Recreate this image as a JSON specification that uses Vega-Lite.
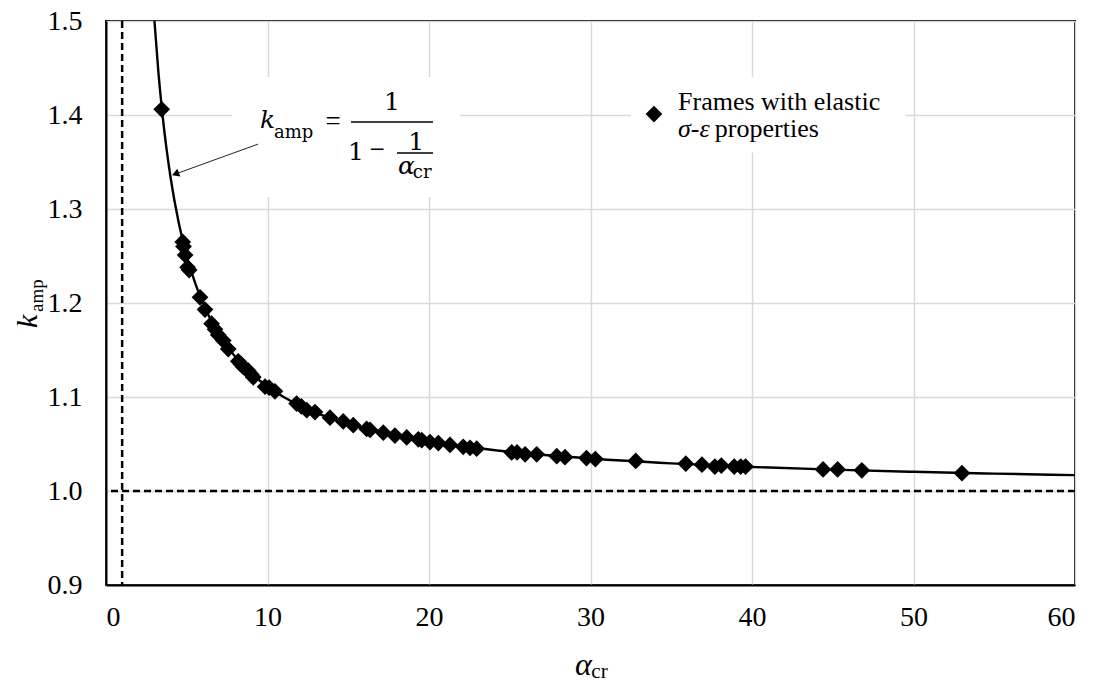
{
  "$schema": "https://vega.github.io/schema/vega-lite/v6.json",
  "autosize": {"type": "none"},
  "width": 969,
  "height": 564,
  "padding": {"left": 106, "top": 21, "right": 24, "bottom": 99},
  "background": "white",
  "config": {
    "view": {"stroke": "black", "strokeWidth": 2},
    "axis": {
      "grid": true, "gridColor": "#d9d9d9", "gridWidth": 1.5,
      "ticks": false, "domain": true, "domainColor": "black", "domainWidth": 2,
      "labelFont": "Liberation Serif", "labelFontSize": 28, "labelColor": "black"
    }
  },
  "datasets": {
    "curve": [
      {"a": 3.0, "k": 1.5}, {"a": 3.25, "k": 1.4444}, {"a": 3.5, "k": 1.4}, {"a": 3.75, "k": 1.3636},
      {"a": 4.0, "k": 1.3333}, {"a": 4.5, "k": 1.2857}, {"a": 5.0, "k": 1.25}, {"a": 5.5, "k": 1.2222},
      {"a": 6.0, "k": 1.2}, {"a": 6.5, "k": 1.1818}, {"a": 7.0, "k": 1.1667}, {"a": 8.0, "k": 1.1429},
      {"a": 9.0, "k": 1.125}, {"a": 10.0, "k": 1.1111}, {"a": 11.0, "k": 1.1}, {"a": 12.0, "k": 1.0909},
      {"a": 14.0, "k": 1.0769}, {"a": 16.0, "k": 1.0667}, {"a": 18.0, "k": 1.0588}, {"a": 20.0, "k": 1.0526},
      {"a": 25.0, "k": 1.0417}, {"a": 30.0, "k": 1.0345}, {"a": 35.0, "k": 1.0294}, {"a": 40.0, "k": 1.0256},
      {"a": 45.0, "k": 1.0227}, {"a": 50.0, "k": 1.0204}, {"a": 55.0, "k": 1.0185}, {"a": 60.0, "k": 1.0169}
    ],
    "frames": [
      {"a": 3.45, "k": 1.406}, {"a": 4.75, "k": 1.265}, {"a": 4.8, "k": 1.26}, {"a": 4.9, "k": 1.251},
      {"a": 5.05, "k": 1.238}, {"a": 5.15, "k": 1.235}, {"a": 5.82, "k": 1.206}, {"a": 6.13, "k": 1.193},
      {"a": 6.54, "k": 1.178}, {"a": 6.75, "k": 1.172}, {"a": 6.95, "k": 1.166}, {"a": 7.26, "k": 1.16},
      {"a": 7.57, "k": 1.151}, {"a": 8.19, "k": 1.138}, {"a": 8.35, "k": 1.135}, {"a": 8.5, "k": 1.132},
      {"a": 8.81, "k": 1.128}, {"a": 9.0, "k": 1.124}, {"a": 9.12, "k": 1.121}, {"a": 9.85, "k": 1.111},
      {"a": 10.1, "k": 1.11}, {"a": 10.46, "k": 1.106}, {"a": 11.8, "k": 1.093}, {"a": 12.1, "k": 1.09},
      {"a": 12.43, "k": 1.086}, {"a": 12.94, "k": 1.084}, {"a": 13.87, "k": 1.078}, {"a": 14.69, "k": 1.074},
      {"a": 15.31, "k": 1.07}, {"a": 16.14, "k": 1.066}, {"a": 16.35, "k": 1.065}, {"a": 17.17, "k": 1.062},
      {"a": 17.89, "k": 1.059}, {"a": 18.62, "k": 1.057}, {"a": 19.34, "k": 1.055}, {"a": 19.55, "k": 1.054},
      {"a": 20.06, "k": 1.052}, {"a": 20.58, "k": 1.051}, {"a": 21.3, "k": 1.049}, {"a": 22.12, "k": 1.047},
      {"a": 22.54, "k": 1.046}, {"a": 22.95, "k": 1.045}, {"a": 25.12, "k": 1.041}, {"a": 25.45, "k": 1.041},
      {"a": 25.95, "k": 1.039}, {"a": 26.67, "k": 1.039}, {"a": 27.91, "k": 1.037}, {"a": 28.42, "k": 1.036},
      {"a": 29.75, "k": 1.035}, {"a": 30.3, "k": 1.034}, {"a": 32.8, "k": 1.032}, {"a": 35.9, "k": 1.029},
      {"a": 36.9, "k": 1.028}, {"a": 37.7, "k": 1.026}, {"a": 38.1, "k": 1.027}, {"a": 38.9, "k": 1.026},
      {"a": 39.3, "k": 1.026}, {"a": 39.6, "k": 1.026}, {"a": 44.4, "k": 1.023}, {"a": 45.3, "k": 1.023},
      {"a": 46.8, "k": 1.022}, {"a": 53.0, "k": 1.019}
    ]
  },
  "layer": [
    {
      "data": {"values": [
        {"a": 7.8, "a2": 21.9, "k": 1.4404, "k2": 1.3128},
        {"a": 32.5, "a2": 49.5, "k": 1.4404, "k2": 1.36}
      ]},
      "mark": {"type": "rect", "fill": "white", "stroke": null},
      "encoding": {
        "x": {"field": "a", "type": "quantitative", "scale": {"domain": [0, 60], "nice": false},
              "axis": {"values": [0, 10, 20, 30, 40, 50, 60], "labelPadding": 18, "title": null,
                       "labelFont": "Liberation Serif", "labelFontSize": 28, "labelColor": "black"}},
        "x2": {"field": "a2"},
        "y": {"field": "k", "type": "quantitative", "scale": {"domain": [0.9, 1.5], "nice": false},
              "axis": {"values": [0.9, 1.0, 1.1, 1.2, 1.3, 1.4, 1.5], "format": ".1f", "labelPadding": 24, "title": null,
                       "labelFont": "Liberation Serif", "labelFontSize": 28, "labelColor": "black"}},
        "y2": {"field": "k2"}
      }
    },
    {
      "data": {"values": [{"v": 1}]},
      "mark": {"type": "rule", "color": "black", "strokeWidth": 2.5, "strokeDash": [7, 4]},
      "encoding": {"x": {"field": "v", "type": "quantitative"}}
    },
    {
      "data": {"values": [{"v": 1.0}]},
      "mark": {"type": "rule", "color": "black", "strokeWidth": 2.5, "strokeDash": [7, 4]},
      "encoding": {"y": {"field": "v", "type": "quantitative"}}
    },
    {
      "data": {"name": "curve"},
      "mark": {"type": "line", "color": "black", "strokeWidth": 2.4, "interpolate": "monotone"},
      "encoding": {
        "x": {"field": "a", "type": "quantitative"},
        "y": {"field": "k", "type": "quantitative"}
      }
    },
    {
      "data": {"name": "frames"},
      "mark": {"type": "point", "shape": "diamond", "filled": true, "color": "black", "size": 280, "opacity": 1},
      "encoding": {
        "x": {"field": "a", "type": "quantitative"},
        "y": {"field": "k", "type": "quantitative"}
      }
    },
    {
      "data": {"values": [{"a": 33.93, "k": 1.401}]},
      "mark": {"type": "point", "shape": "diamond", "filled": true, "color": "black", "size": 280, "opacity": 1},
      "encoding": {
        "x": {"field": "a", "type": "quantitative"},
        "y": {"field": "k", "type": "quantitative"}
      }
    },
    {
      "data": {"values": [{"a": 9.41, "k": 1.369, "a2": 4.2, "k2": 1.3366}]},
      "mark": {"type": "rule", "color": "#222222", "strokeWidth": 1},
      "encoding": {
        "x": {"field": "a", "type": "quantitative"},
        "y": {"field": "k", "type": "quantitative"},
        "x2": {"field": "a2"},
        "y2": {"field": "k2"}
      }
    },
    {
      "data": {"values": [{"a": 4.3, "k": 1.3373}]},
      "mark": {"type": "point", "shape": "triangle-up", "filled": true, "color": "black", "size": 70, "angle": 249, "opacity": 1},
      "encoding": {
        "x": {"field": "a", "type": "quantitative"},
        "y": {"field": "k", "type": "quantitative"}
      }
    },
    {
      "data": {"values": [
        {"a": 15.17, "a2": 20.25, "k": 1.3926},
        {"a": 18.02, "a2": 20.25, "k": 1.3596}
      ]},
      "mark": {"type": "rule", "color": "black", "strokeWidth": 1.5},
      "encoding": {
        "x": {"field": "a", "type": "quantitative"},
        "x2": {"field": "a2"},
        "y": {"field": "k", "type": "quantitative"}
      }
    },
    {
      "data": {"values": [
        {"a": 9.54, "k": 1.3862, "t": "k"},
        {"a": 18.08, "k": 1.3372, "t": "α"}
      ]},
      "mark": {"type": "text", "font": "DejaVu Serif", "fontStyle": "italic", "fontSize": 25, "align": "left", "baseline": "alphabetic", "color": "black"},
      "encoding": {
        "x": {"field": "a", "type": "quantitative"},
        "y": {"field": "k", "type": "quantitative"},
        "text": {"field": "t"}
      }
    },
    {
      "data": {"values": [
        {"a": 10.4, "k": 1.3755, "t": "amp"},
        {"a": 19.0, "k": 1.3335, "t": "cr"}
      ]},
      "mark": {"type": "text", "font": "DejaVu Serif", "fontSize": 18, "align": "left", "baseline": "alphabetic", "color": "black"},
      "encoding": {
        "x": {"field": "a", "type": "quantitative"},
        "y": {"field": "k", "type": "quantitative"},
        "text": {"field": "t"}
      }
    },
    {
      "data": {"values": [
        {"a": 17.71, "k": 1.4053, "t": "1"},
        {"a": 15.48, "k": 1.352, "t": "1"},
        {"a": 19.2, "k": 1.3632, "t": "1"}
      ]},
      "mark": {"type": "text", "font": "DejaVu Serif", "fontSize": 25, "align": "center", "baseline": "alphabetic", "color": "black"},
      "encoding": {
        "x": {"field": "a", "type": "quantitative"},
        "y": {"field": "k", "type": "quantitative"},
        "text": {"field": "t"}
      }
    },
    {
      "data": {"values": [
        {"a": 14.06, "k": 1.384, "t": "="},
        {"a": 16.78, "k": 1.354, "t": "−"}
      ]},
      "mark": {"type": "text", "font": "Liberation Serif", "fontSize": 27, "align": "center", "baseline": "alphabetic", "color": "black"},
      "encoding": {
        "x": {"field": "a", "type": "quantitative"},
        "y": {"field": "k", "type": "quantitative"},
        "text": {"field": "t"}
      }
    },
    {
      "data": {"values": [
        {"a": 35.42, "k": 1.4053, "t": "Frames with elastic"},
        {"a": 37.7, "k": 1.3766, "t": "properties"}
      ]},
      "mark": {"type": "text", "font": "Liberation Serif", "fontSize": 26, "align": "left", "baseline": "alphabetic", "color": "black"},
      "encoding": {
        "x": {"field": "a", "type": "quantitative"},
        "y": {"field": "k", "type": "quantitative"},
        "text": {"field": "t"}
      }
    },
    {
      "data": {"values": [{"a": 35.42, "k": 1.3766, "t": "σ-ε"}]},
      "mark": {"type": "text", "font": "Liberation Serif", "fontStyle": "italic", "fontSize": 26, "align": "left", "baseline": "alphabetic", "color": "black"},
      "encoding": {
        "x": {"field": "a", "type": "quantitative"},
        "y": {"field": "k", "type": "quantitative"},
        "text": {"field": "t"}
      }
    },
    {
      "data": {"values": [{"a": -4.27, "k": 1.1734, "t": "k"}]},
      "mark": {"type": "text", "font": "Liberation Serif", "fontStyle": "italic", "fontSize": 30, "align": "left", "baseline": "alphabetic", "angle": 270, "color": "black"},
      "encoding": {
        "x": {"field": "a", "type": "quantitative"},
        "y": {"field": "k", "type": "quantitative"},
        "text": {"field": "t"}
      }
    },
    {
      "data": {"values": [{"a": -3.9, "k": 1.1904, "t": "amp"}]},
      "mark": {"type": "text", "font": "Liberation Serif", "fontSize": 19, "align": "left", "baseline": "alphabetic", "angle": 270, "color": "black"},
      "encoding": {
        "x": {"field": "a", "type": "quantitative"},
        "y": {"field": "k", "type": "quantitative"},
        "text": {"field": "t"}
      }
    },
    {
      "data": {"values": [{"a": 29.04, "k": 0.8043, "t": "α"}]},
      "mark": {"type": "text", "font": "Liberation Serif", "fontStyle": "italic", "fontSize": 32, "align": "left", "baseline": "alphabetic", "color": "black"},
      "encoding": {
        "x": {"field": "a", "type": "quantitative"},
        "y": {"field": "k", "type": "quantitative"},
        "text": {"field": "t"}
      }
    },
    {
      "data": {"values": [{"a": 30.05, "k": 0.8011, "t": "cr"}]},
      "mark": {"type": "text", "font": "Liberation Serif", "fontSize": 21, "align": "left", "baseline": "alphabetic", "color": "black"},
      "encoding": {
        "x": {"field": "a", "type": "quantitative"},
        "y": {"field": "k", "type": "quantitative"},
        "text": {"field": "t"}
      }
    }
  ]
}
